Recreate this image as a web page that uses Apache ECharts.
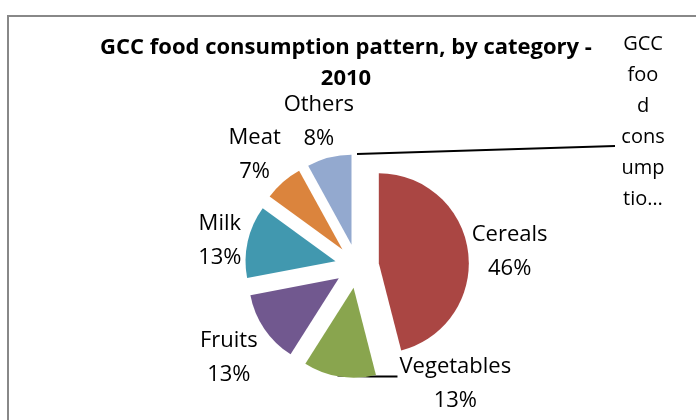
<!DOCTYPE html>
<html>
<head>
<meta charset="utf-8">
<script src="https://cdn.jsdelivr.net/npm/echarts@6/dist/echarts.min.js"></script>
<style>
  html, body { margin: 0; padding: 0; background: #fff; }
  #chart { width: 696px; height: 420px; }
</style>
</head>
<body>
<div id="chart"></div>
<script>
const categories = ['Cereals', 'Vegetables', 'Fruits', 'Milk', 'Meat', 'Others'];
const shares = [46, 13, 13, 13, 7, 8];
const sliceColors = ['#AA4643', '#89A54E', '#71588F', '#4198AF', '#DB843D', '#93A9CF'];
const titleLines = ['GCC food consumption pattern, by category -', '2010'];
// series name label that excel squeezed into the right margin
const seriesNameLines = ['GCC', 'foo', 'd', 'cons', 'ump', 'tio…'];

const center = [357, 266];
const radius = 90;
const explode = 22;
const bottomLimit = 418;
const font = '"Open Sans", Carlito, Calibri, sans-serif';

const total = shares.reduce((a, b) => a + b, 0);
const starts = [];
shares.reduce((acc, v, i) => {
  starts[i] = acc;
  return acc + v;
}, 0);

// bisector direction of a slice, clockwise from 12 o'clock (screen coords)
const midDir = (i) => {
  const a = ((starts[i] + shares[i] / 2) / total) * Math.PI * 2;
  return [Math.sin(a), -Math.cos(a)];
};

// centre of a slice once it is pulled out of the pie
const sliceCenter = (i) => {
  const [dx, dy] = midDir(i);
  return [center[0] + dx * explode, center[1] + dy * explode];
};

const placeLabel = (p) => {
  const i = p.seriesIndex;
  const [dx, dy] = midDir(i);
  const [ox, oy] = sliceCenter(i);
  const w = p.labelRect.width / 2;
  const h = p.labelRect.height / 2;
  const d = radius + w * Math.abs(dx) + h * Math.abs(dy);
  let x = ox + dx * d;
  let y = oy + dy * d + 5;
  if (y + h > bottomLimit) {
    // no room underneath: lift it and slide it right, with a leader line
    const ax = ox + dx * radius;
    const ay = oy + dy * radius;
    y = bottomLimit - h;
    x = ax + 60 + w;
    return {
      x,
      y,
      align: 'center',
      verticalAlign: 'middle',
      labelLinePoints: [[ax - 2, ay - 1], [ax + 30, ay], [x - w - 2, ay]]
    };
  }
  return { x, y, align: 'center', verticalAlign: 'middle' };
};

// one pie per slice so every slice can sit at its own exploded centre
const sliceSeries = categories.map((name, i) => ({
  type: 'pie',
  silent: true,
  center: sliceCenter(i),
  radius: radius,
  startAngle: 90 - (starts[i] / total) * 360,
  clockwise: true,
  emphasis: { disabled: true },
  label: {
    position: 'outside',
    fontFamily: font,
    fontSize: 22,
    lineHeight: 34,
    color: '#000',
    formatter: (p) => p.name + '\n' + Math.round(p.percent) + '%'
  },
  labelLine: {
    show: i === 1,
    length: 10,
    length2: 10,
    lineStyle: { color: '#000', width: 2 }
  },
  labelLayout: placeLabel,
  data: [
    { name, value: shares[i], itemStyle: { color: sliceColors[i] } },
    {
      name: '',
      value: total - shares[i],
      itemStyle: { color: 'rgba(0,0,0,0)' },
      label: { show: false },
      labelLine: { show: false }
    }
  ]
}));

const chart = echarts.init(document.getElementById('chart'));

chart.setOption({
  backgroundColor: '#fff',
  animation: false,
  title: {
    text: titleLines.join('\n'),
    left: 341,
    top: 27,
    textAlign: 'center',
    textStyle: {
      fontFamily: font,
      fontSize: 22,
      fontWeight: 'bold',
      color: '#000',
      lineHeight: 31
    }
  },
  graphic: [
    {
      type: 'rect',
      silent: true,
      shape: { x: 8, y: 16, width: 720, height: 440 },
      style: { fill: 'none', stroke: '#888', lineWidth: 2 }
    },
    {
      type: 'text',
      silent: true,
      style: {
        x: 643,
        y: 29,
        text: seriesNameLines.join('\n'),
        fontFamily: font,
        fontSize: 20,
        lineHeight: 31,
        align: 'center',
        fill: '#000'
      }
    },
    {
      type: 'line',
      silent: true,
      shape: {
        x1: center[0],
        y1: center[1] - explode - radius,
        x2: 615,
        y2: 146
      },
      style: { stroke: '#000', lineWidth: 2 }
    }
  ],
  series: sliceSeries
});
</script>
</body>
</html>
